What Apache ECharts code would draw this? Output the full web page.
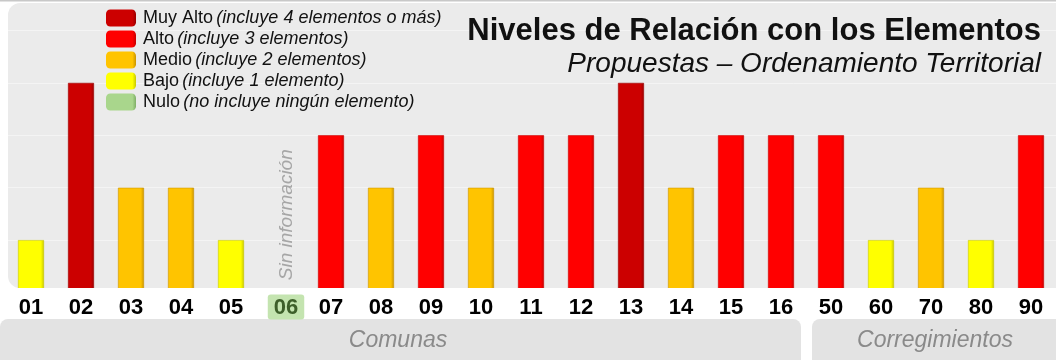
<!DOCTYPE html>
<html>
<head>
<meta charset="utf-8">
<script src="https://cdn.jsdelivr.net/npm/echarts@6/dist/echarts.min.js"></script>
<style>
  html, body { margin: 0; padding: 0; background: #ffffff; }
  #chart { width: 1056px; height: 360px; }
</style>
</head>
<body>
<div id="chart"></div>
<script>
// Códigos de comunas y corregimientos
const categories = ['01','02','03','04','05','06','07','08','09','10','11','12','13','14','15','16','50','60','70','80','90'];
// Número de elementos incluidos por cada propuesta (06: sin información)
const elementos = [1, 4, 2, 2, 1, 0, 3, 2, 3, 2, 3, 3, 4, 2, 3, 3, 3, 1, 2, 1, 3];
// Niveles de relación (de mayor a menor) y su descripción
const nivelNombres = ['Muy Alto', 'Alto', 'Medio', 'Bajo', 'Nulo'];
const nivelNotas = ['(incluye 4 elementos o más)', '(incluye 3 elementos)', '(incluye 2 elementos)', '(incluye 1 elemento)', '(no incluye ningún elemento)'];
const nivelMinimo = [4, 3, 2, 1, 0];
const sinInfo = ['06'];
const grupos = ['Comunas', 'Corregimientos'];

const FONT = '"Liberation Sans", Arial, Helvetica, sans-serif';
const colores = ['#cc0000', '#ff0000', '#ffc400', '#ffff00', '#a9d68c'];
const bordes = ['#9a0000', '#c80000', '#c99400', '#c8c800', '#7fae66'];

function nivelDe(v) {
  for (let k = 0; k < nivelMinimo.length; k++) if (v >= nivelMinimo[k]) return k;
  return nivelMinimo.length - 1;
}

function barFill(k) {
  return {
    type: 'linear', x: 0, y: 0, x2: 1, y2: 0,
    colorStops: [
      { offset: 0, color: colores[k] },
      { offset: 0.88, color: colores[k] },
      { offset: 1, color: bordes[k] }
    ]
  };
}

const series = nivelNombres.map((nombre, k) => ({
  name: nombre,
  type: 'bar',
  stack: 'nivel',
  barWidth: 26,
  color: colores[k],
  itemStyle: { color: barFill(k), borderColor: bordes[k], borderWidth: 0.6 },
  data: elementos.map((v, i) => {
    if (k === nivelMinimo.length - 1) {
      if (sinInfo.indexOf(categories[i]) >= 0) {
        return {
          value: v,
          label: {
            show: true, position: 'top', distance: 12, rotate: 90,
            align: 'left', verticalAlign: 'middle', offset: [0, 6],
            formatter: 'Sin información',
            fontFamily: FONT, fontStyle: 'italic', fontSize: 19, color: '#a6a6a6'
          }
        };
      }
      return '-';
    }
    return (nivelDe(v) === k && sinInfo.indexOf(categories[i]) < 0) ? v : '-';
  })
}));

const chart = echarts.init(document.getElementById('chart'), null, { renderer: 'canvas' });

chart.setOption({
  animation: false,
  backgroundColor: '#ffffff',
  title: [
    {
      text: 'Niveles de Relación con los Elementos',
      right: 15, top: 16, padding: 0,
      textStyle: { fontFamily: FONT, fontWeight: 'bold', fontSize: 31, color: '#111111' }
    },
    {
      text: 'Propuestas – Ordenamiento Territorial',
      right: 15, top: 50, padding: 0,
      textStyle: { fontFamily: FONT, fontWeight: 'normal', fontStyle: 'italic', fontSize: 28, color: '#111111' }
    }
  ],
  legend: {
    orient: 'vertical',
    left: 106, top: 9, padding: 0,
    icon: 'roundRect',
    itemWidth: 30, itemHeight: 17, itemGap: 3,
    selectedMode: false,
    itemStyle: { borderWidth: 0 },
    data: nivelNombres,
    formatter: name => {
      const k = nivelNombres.indexOf(name);
      return '{n|' + name + '} {i|' + nivelNotas[k] + '}';
    },
    textStyle: {
      padding: [0, 0, 0, 2],
      rich: {
        n: { fontFamily: FONT, fontSize: 18, color: '#111111', lineHeight: 19 },
        i: { fontFamily: FONT, fontSize: 18, fontStyle: 'italic', color: '#111111', lineHeight: 19 }
      }
    }
  },
  grid: { left: 6, top: 30.5, width: 1056, height: 262, containLabel: false },
  xAxis: {
    type: 'category',
    z: 30,
    data: categories,
    boundaryGap: true,
    axisLine: { show: false },
    axisTick: { show: false },
    axisLabel: {
      interval: 0,
      margin: 2,
      formatter: v => (sinInfo.indexOf(v) >= 0 ? '{gap|}{nulo|' + v + '}' : '{c|' + v + '}'),
      rich: {
        c: { fontFamily: FONT, fontWeight: 'bold', fontSize: 22, color: '#000000', padding: [2, 0, 1, 0] },
        gap: { width: 10 },
        nulo: {
          fontFamily: FONT, fontWeight: 'bold', fontSize: 22, color: '#3d5f2a',
          backgroundColor: '#c4e4b0', borderRadius: 3, padding: [2, 6, 1, 6]
        }
      }
    }
  },
  yAxis: {
    type: 'value',
    min: 0, max: 5, interval: 1,
    axisLine: { show: false },
    axisTick: { show: false },
    axisLabel: { show: false },
    splitLine: { show: true, lineStyle: { color: 'rgba(255,255,255,0.45)', width: 1 } }
  },
  graphic: [
    // panel del gráfico
    { type: 'rect', z: -10, shape: { x: 8, y: 3, width: 1060, height: 285, r: 12 }, style: { fill: '#ebebeb' } },
    { type: 'rect', z: -9, shape: { x: 0, y: 0, width: 1056, height: 1.5 }, style: { fill: '#c8c8c8' } },
    // zona blanca de etiquetas bajo el panel
    { type: 'rect', z: 20, shape: { x: 0, y: 288, width: 1056, height: 31 }, style: { fill: '#ffffff' }, silent: true },
    // franjas de agrupación
    { type: 'rect', z: -10, shape: { x: 0, y: 319, width: 801, height: 60, r: 8 }, style: { fill: '#e3e3e3' } },
    { type: 'rect', z: -10, shape: { x: 812, y: 319, width: 260, height: 60, r: 8 }, style: { fill: '#e3e3e3' } },
    { type: 'text', z: 25, x: 398, y: 341, style: { text: grupos[0], fontFamily: FONT, fontStyle: 'italic', fontSize: 23, fill: '#8a8a8a', textAlign: 'center', textVerticalAlign: 'middle' } },
    { type: 'text', z: 25, x: 935, y: 341, style: { text: grupos[1], fontFamily: FONT, fontStyle: 'italic', fontSize: 23, fill: '#8a8a8a', textAlign: 'center', textVerticalAlign: 'middle' } }
  ],
  series: series
});
</script>
</body>
</html>
